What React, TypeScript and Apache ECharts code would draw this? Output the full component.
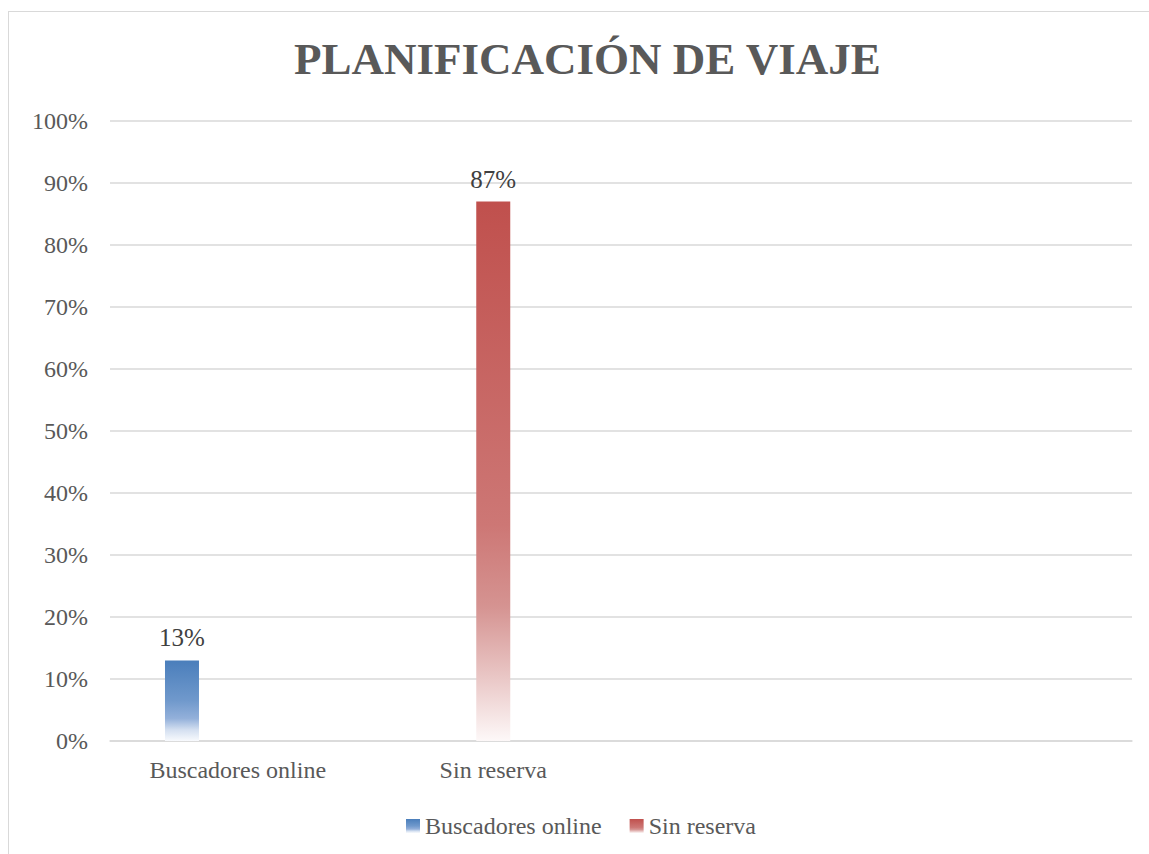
import React, { useEffect, useRef } from "react";
import * as echarts from "echarts";

const categories = ["Buscadores online", "Sin reserva", "", ""];
const buscadoresValues = [13, "-", "-", "-"];
const sinReservaValues = ["-", 87, "-", "-"];
const yTicks = [0, 100, 10];

const FONT = "Liberation Serif";

export default function App() {
  const ref = useRef<HTMLDivElement>(null);
  useEffect(() => {
    if (!ref.current) return;
    const chart = echarts.init(ref.current, null, { renderer: "svg" });
    const blue = new echarts.graphic.LinearGradient(0, 0, 0, 1, [
      { offset: 0, color: "#4a7ebb" },
      { offset: 0.5, color: "#7099cc" },
      { offset: 0.72, color: "#93b0da" },
      { offset: 0.86, color: "#d3dff0" },
      { offset: 1, color: "#f8fafd" },
    ]);
    const red = new echarts.graphic.LinearGradient(0, 0, 0, 1, [
      { offset: 0, color: "#c0504d" },
      { offset: 0.6, color: "#cd7775" },
      { offset: 0.75, color: "#d59391" },
      { offset: 0.88, color: "#e9c6c5" },
      { offset: 1, color: "#fdf8f8" },
    ]);
    const labelStyle = {
      show: true,
      position: "top",
      formatter: "{c}%",
      color: "#404040",
      fontFamily: FONT,
      fontSize: 25,
      distance: 10,
    };
    chart.setOption({
      animation: false,
      backgroundColor: "#ffffff",
      title: {
        text: "PLANIFICACIÓN DE VIAJE",
        left: 280,
        top: 19,
        textStyle: {
          fontFamily: FONT,
          fontWeight: "bold",
          fontSize: 45,
          color: "#595959",
        },
      },
      legend: {
        data: ["Buscadores online", "Sin reserva"],
        top: 797,
        left: 392,
        itemWidth: 14,
        itemHeight: 14,
        itemGap: 28,
        icon: "rect",
        textStyle: { fontFamily: FONT, fontSize: 24, color: "#595959" },
      },
      grid: { left: 101, right: 17, top: 109, bottom: 113, containLabel: false },
      xAxis: [
        {
          type: "category",
          data: categories,
          axisLine: { lineStyle: { color: "#d9d9d9", width: 1.5 } },
          axisTick: { show: false },
          axisLabel: { fontFamily: FONT, fontSize: 24, color: "#595959", margin: 17, interval: 0 },
        },
        {
          type: "category",
          data: categories,
          show: false,
          position: "bottom",
        },
      ],
      yAxis: {
        type: "value",
        min: yTicks[0],
        max: yTicks[1],
        interval: yTicks[2],
        axisLabel: { formatter: "{value}%", fontFamily: FONT, fontSize: 24, color: "#595959", margin: 22 },
        axisLine: { show: false },
        axisTick: { show: false },
        splitLine: { lineStyle: { color: "#d9d9d9", width: 1.5 } },
      },
      series: [
        {
          name: "Buscadores online",
          type: "bar",
          xAxisIndex: 0,
          data: buscadoresValues,
          barWidth: 34,
          barGap: "228%",
          itemStyle: { color: blue },
          label: labelStyle,
        },
        {
          name: "spacer",
          type: "bar",
          xAxisIndex: 0,
          data: ["-", "-", "-", "-"],
          barWidth: 34,
          barGap: "228%",
          silent: true,
        },
        {
          name: "Sin reserva",
          type: "bar",
          xAxisIndex: 1,
          data: sinReservaValues,
          barWidth: 34,
          itemStyle: { color: red },
          label: labelStyle,
        },
      ],
    });
    return () => chart.dispose();
  }, []);
  return (
    <div
      style={{
        position: "absolute",
        left: 8,
        top: 11,
        width: 1141,
        height: 843,
        boxSizing: "border-box",
        borderLeft: "1px solid #d9d9d9",
        borderTop: "1px solid #d9d9d9",
        background: "#fff",
      }}
    >
      <div ref={ref} style={{ width: 1140, height: 842 }} />
    </div>
  );
}
